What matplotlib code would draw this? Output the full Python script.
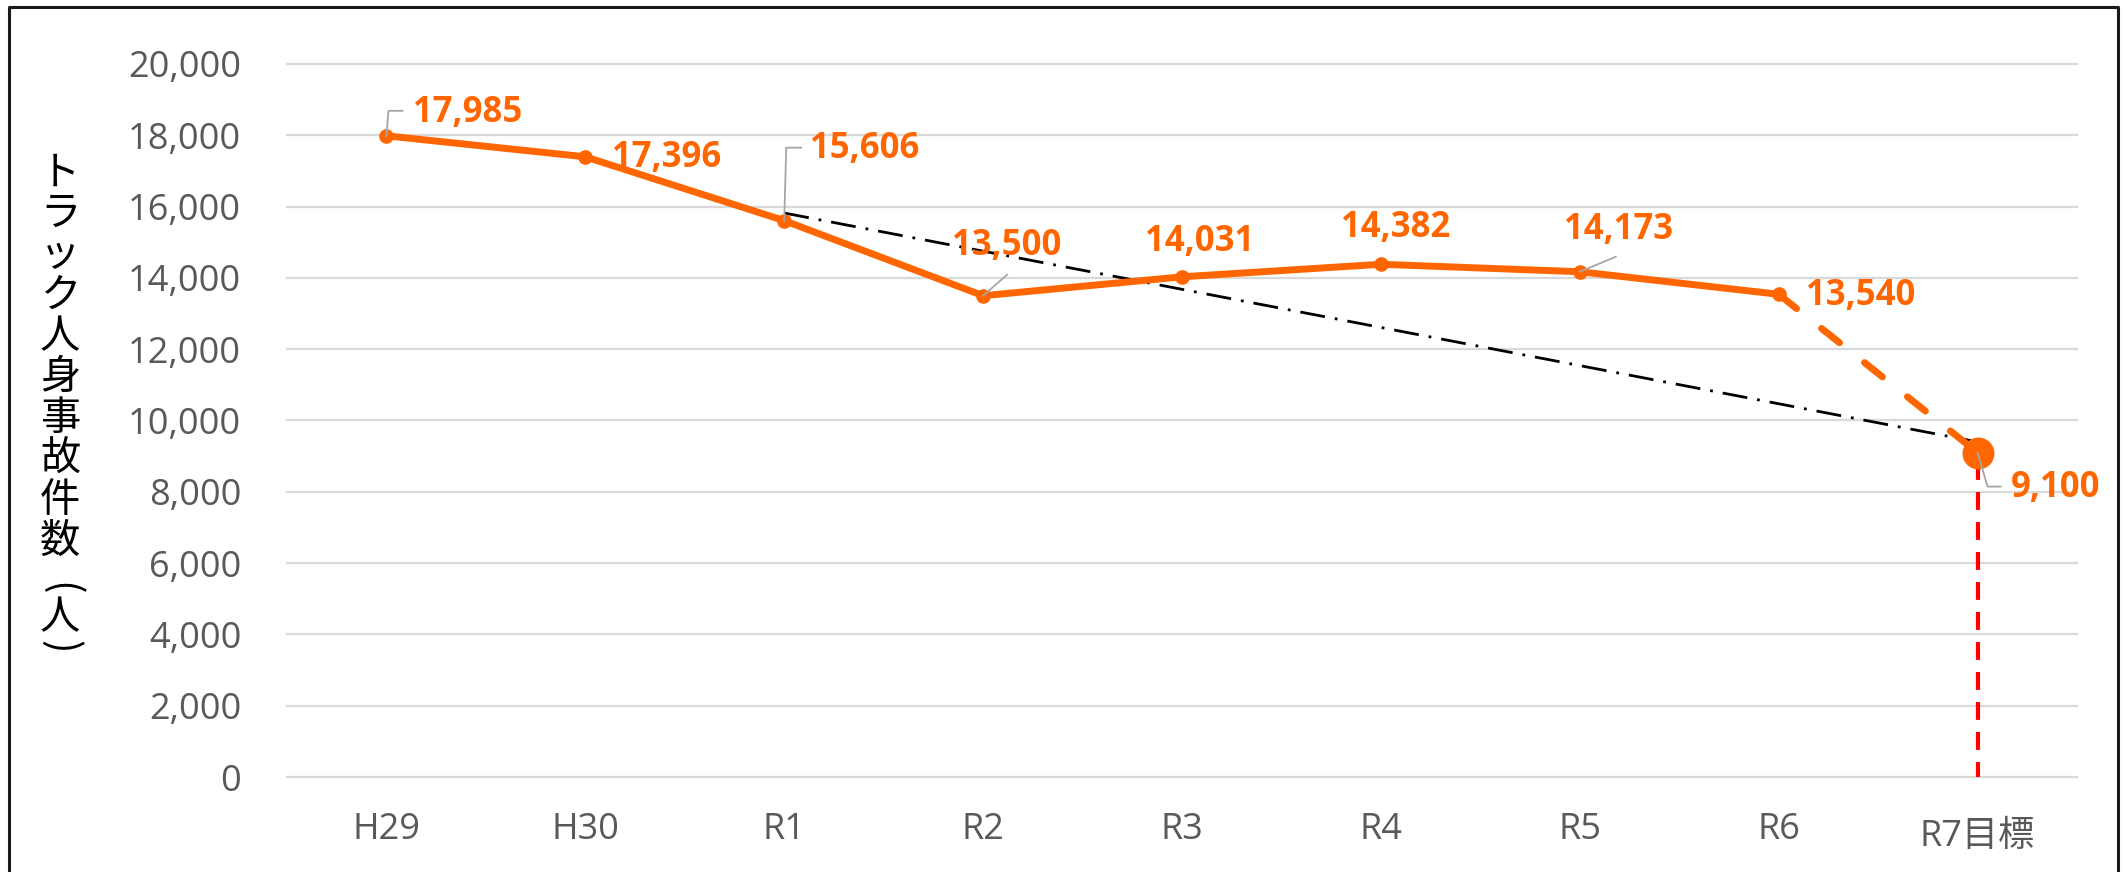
import matplotlib
matplotlib.use('Agg')
import matplotlib.pyplot as plt
from matplotlib.lines import Line2D
from matplotlib.transforms import IdentityTransform, ScaledTranslation
import numpy as np

# ---------------- data ----------------
categories = ['H29', 'H30', 'R1', 'R2', 'R3', 'R4', 'R5', 'R6', 'R7目標']
actual = [17985, 17396, 15606, 13500, 14031, 14382, 14173, 13540]
target = 9100
trend_start = 15820   # dash-dot guide at R1
trend_end = 9400      # dash-dot guide at R7
yticks = list(range(0, 20001, 2000))
ylabel_chars = ['ト', 'ラ', 'ッ', 'ク', '人', '身', '事', '故', '件', '数']
ylabel_unit = ['(', '人', ')']

# ---------------- style ----------------
ORANGE = '#FF6600'
GRID = '#D9D9D9'
TICK = '#595959'
LEADER = '#A6A6A6'
plt.rcParams['font.family'] = ['Open Sans', 'Noto Sans CJK JP', 'DejaVu Sans']

W, H = 2125, 872
fig = plt.figure(figsize=(W / 100, H / 100), dpi=100)
ax = fig.add_axes([287 / W, 1 - 777 / H, (2077 - 287) / W, (777 - 64) / H])

x = np.arange(len(categories))
ax.set_xlim(-0.5, len(categories) - 0.5)
ax.set_ylim(0, 20000)
ax.set_yticks(yticks)
ax.set_yticklabels([f'{v:,}' for v in yticks])
ax.set_xticks(x)
ax.set_xticklabels(categories)
ax.tick_params(axis='both', length=0, labelsize=26, labelcolor=TICK)
ax.tick_params(axis='y', pad=33)
ax.tick_params(axis='x', pad=25)
for s in ax.spines.values():
    s.set_visible(False)
ax.grid(axis='y', color=GRID, lw=1.6)
ax.grid(axis='x', visible=False)
ax.set_axisbelow(True)
for gl in ax.get_ygridlines():
    gl.set_clip_on(False)
# last category label sits a little lower in the reference
lastlbl = ax.get_xticklabels()[-1]
lastlbl.set_transform(lastlbl.get_transform() + ScaledTranslation(0, -0.07, fig.dpi_scale_trans))

# red dashed drop line at target
ax.plot([x[-1], x[-1]], [target * 0.97, 0], color='#FF0000', lw=3, dashes=(4.3, 2.9), zorder=2)
# dash-dot guide line
ax.plot([x[2], x[-1]], [trend_start, trend_end], color='black', lw=2,
        dashes=(9, 3.6, 1, 3.6), zorder=3)
# actual values
n = len(actual)
ax.plot(x[:n], actual, color=ORANGE, lw=5, marker='o', ms=9.5,
        solid_joinstyle='round', solid_capstyle='round', zorder=4)
# projection to target
ax.plot([x[n - 1], x[-1]], [actual[-1], target], color=ORANGE, lw=5,
        dashes=(3.3, 4.6), dash_capstyle='round', zorder=4)
ax.plot([x[-1]], [target], 'o', color=ORANGE, ms=22, zorder=5)

# ---------------- labels ----------------
values = actual + [target]
# (dx px, dy px downward, ha)
label_offsets = [(27, -23, 'left'), (27, 1, 'left'), (26, -72, 'left'),
                 (24, -50, 'center'), (18, -35, 'center'), (15, -36, 'center'),
                 (39, -42, 'center'), (27, 2, 'left'), (33, 35, 'left')]
leaders = {0: [(0, 0), (2, -25), (16, -25)],
           2: [(0, 0), (2, -73), (17, -73)],
           3: [(0, 0), (24, -21)],
           6: [(0, 0), (36, -15)],
           8: [(0, 0), (10, 34), (23, 34)]}

for i, v in enumerate(values):
    dx, dy, ha = label_offsets[i]
    ax.annotate(f'{v:,}', xy=(x[i], v), xytext=(dx * 0.72, -dy * 0.72),
                textcoords='offset points', ha=ha, va='center',
                fontsize=25, fontweight='bold', color=ORANGE,
                annotation_clip=False, zorder=6)
    if i in leaders:
        bx, by = ax.transData.transform((x[i], v))
        pts = leaders[i]
        fig.add_artist(Line2D([bx + p[0] for p in pts], [by - p[1] for p in pts],
                              transform=IdentityTransform(), color=LEADER, lw=1.3,
                              zorder=5))

# vertical y-axis title (upright characters, stacked)
ycent = [173 + 40.9 * k for k in range(len(ylabel_chars))]
for ch, yc in zip(ylabel_chars, ycent):
    fig.text(60 / W, 1 - yc / H, ch, fontsize=29, family='Noto Sans CJK JP',
             ha='center', va='center', color='black')
# unit "（人）" in vertical form: parentheses turned sideways
for ch, yc, rot in zip(ylabel_unit, [589, 618, 647], [-90, 0, -90]):
    fig.text(60 / W, 1 - yc / H, ch, fontsize=29, family='Noto Sans CJK JP',
             ha='center', va='center', rotation=rot, color='black')

# outer frame
fx0, fx1, fy = 9 / W, 2118 / W, 1 - 7 / H
fig.add_artist(Line2D([fx0, fx0, fx1, fx1], [0, fy, fy, 0], transform=fig.transFigure,
                      color='#1A1A1A', lw=2.2))

fig.savefig('out.png', dpi=100)
